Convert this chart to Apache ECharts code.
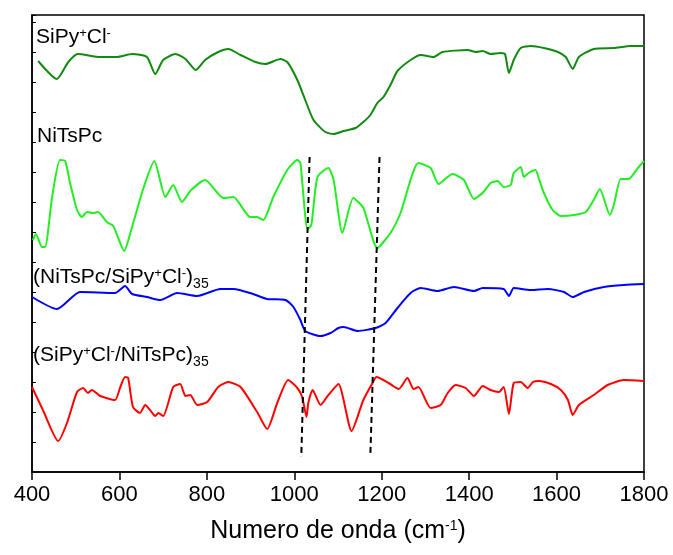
<!DOCTYPE html>
<html>
<head>
<meta charset="utf-8">
<script src="https://cdn.jsdelivr.net/npm/echarts@6/dist/echarts.min.js"></script>
<style>
  html, body { margin: 0; padding: 0; background: #fff; }
  #main { width: 673px; height: 555px; }
</style>
</head>
<body>
<div id="main"></div>
<script>
// wavenumber (cm-1) and offset intensity (a.u.) for each spectrum
const siPyWn = [414,457,483,505,556,594,629,663,682,700,728,751,775,796,826,849,877,911,934,968,984,1007,1025,1044,1071,1090,1113,1140,1158,1174,1190,1204,1220,1236,1266,1289,1319,1339,1397,1415,1431,1449,1472,1482,1491,1502,1518,1541,1571,1603,1621,1637,1651,1685,1731,1770,1800];
const siPyInt = [411,393,410,418,415,415,418,415,398,412,418,413,402,412,420,423,417,410,408,413,410,392,372,352,340,338,341,344,350,357,369,375,387,401,412,417,415,420,422,420,421,418,419,418,399,412,424,426,424,420,415,403,415,423,424,426,426];

const niWn = [402,409,423,430,446,464,476,487,503,514,526,540,551,571,586,611,625,655,680,705,723,743,764,796,838,861,899,915,929,952,984,1007,1014,1030,1039,1053,1078,1090,1110,1135,1158,1190,1220,1243,1284,1312,1330,1362,1388,1411,1433,1449,1465,1479,1495,1502,1518,1525,1536,1552,1559,1571,1591,1610,1640,1667,1685,1699,1722,1731,1747,1765,1786,1800];
const niInt = [232,238,225,225,275,312,311,289,262,255,260,259,260,250,246,221,239,284,311,275,287,270,282,292,274,275,255,255,252,275,302,312,309,243,247,295,304,292,239,274,264,224,239,259,309,304,288,298,292,273,280,289,291,285,287,299,305,295,299,302,294,279,262,256,257,260,272,283,257,267,293,293,304,311];

const niSiWn = [400,457,510,590,613,629,663,693,732,778,831,861,906,938,980,998,1014,1025,1060,1083,1101,1113,1145,1186,1209,1236,1266,1289,1328,1365,1411,1431,1479,1491,1502,1541,1580,1617,1637,1663,1708,1754,1800];
const niSiInt = [175,163,180,179,186,178,175,172,179,176,183,183,178,173,172,165,152,141,136,139,144,145,141,144,149,164,179,184,181,185,181,184,183,176,184,182,183,180,175,180,185,187,188];

const siNiWn = [400,425,460,480,503,517,528,537,556,590,602,613,620,631,647,659,670,682,689,700,723,739,751,762,778,801,826,849,877,915,938,961,986,1007,1018,1028,1032,1042,1060,1078,1101,1131,1158,1179,1188,1216,1239,1259,1273,1284,1312,1335,1351,1369,1392,1411,1431,1449,1468,1479,1491,1502,1518,1534,1546,1559,1587,1610,1626,1637,1651,1685,1717,1754,1800];
const siNiInt = [85,62,31,49,80,84,79,82,76,72,85,95,94,65,59,67,62,56,59,56,85,88,76,77,67,70,85,90,85,60,43,69,92,84,75,55,69,82,67,77,88,41,72,89,95,89,83,94,83,85,64,67,79,87,84,76,86,82,80,85,58,89,90,84,90,91,88,82,72,57,67,77,87,92,91];

// guide lines (dashed)
const guide1 = [[1035, 315], [1016, 15]];
const guide2 = [[1195, 315], [1174, 17]];

const xTicks = [400, 600, 800, 1000, 1200, 1400, 1600, 1800];

const FONT = 'Liberation Sans, Arial, sans-serif';

function pairs(xs, ys) {
  return xs.map((x, i) => [x, ys[i]]);
}

function richStyle(size) {
  return {
    m: { fontSize: size, fontFamily: FONT, color: '#000', lineHeight: 24, verticalAlign: 'top' },
    p: { fontSize: 13, fontFamily: FONT, color: '#000', lineHeight: 14, verticalAlign: 'top' },
    s: { fontSize: 14, fontFamily: FONT, color: '#000', lineHeight: 14, verticalAlign: 'bottom', padding: [14, 0, 0, 0] }
  };
}

function label(text, left, top) {
  return {
    type: 'text',
    left: left,
    top: top,
    style: { text: text, rich: richStyle(21), fill: '#000' }
  };
}

let chart = echarts.init(document.getElementById('main'));

function spectrum(xs, ys, color) {
  return {
    type: 'line',
    data: pairs(xs, ys),
    showSymbol: false,
    smooth: 0.2,
    lineStyle: { color: color, width: 2 },
    itemStyle: { color: color },
    silent: true
  };
}

function dashed(pts) {
  return {
    type: 'line',
    data: pts,
    showSymbol: false,
    lineStyle: { color: '#000', width: 2, type: [6, 4] },
    silent: true
  };
}

let option = {
  animation: false,
  grid: {
    left: 32, right: 29, top: 15, bottom: 83,
    show: true, borderColor: '#000', borderWidth: 1.5
  },
  xAxis: {
    type: 'value',
    min: 400, max: 1800, interval: 200,
    axisLine: { show: true, lineStyle: { color: '#000', width: 1.5 } },
    axisTick: { show: true, inside: false, length: 8, lineStyle: { color: '#000', width: 1.5 } },
    axisLabel: {
      fontSize: 22, fontFamily: FONT, color: '#000', margin: 12,
      formatter: v => xTicks.includes(v) ? String(v) : ''
    },
    splitLine: { show: false },
    name: '{a|Numero de onda (cm}{b|-1}{a|)}',
    nameLocation: 'middle',
    nameGap: 47,
    nameTextStyle: {
      rich: {
        a: { fontSize: 25, fontFamily: FONT, color: '#000', lineHeight: 28, verticalAlign: 'top' },
        b: { fontSize: 14, fontFamily: FONT, color: '#000', lineHeight: 14, verticalAlign: 'top' }
      }
    }
  },
  yAxis: {
    type: 'value',
    min: 0, max: 457, interval: 30,
    axisLine: { show: true, lineStyle: { color: '#000', width: 1.5 } },
    axisTick: { show: true, inside: true, length: 4, lineStyle: { color: '#000', width: 1 } },
    axisLabel: { show: false },
    splitLine: { show: false }
  },
  series: [
    spectrum(siPyWn, siPyInt, '#108a10'),
    spectrum(niWn, niInt, '#22ee22'),
    spectrum(niSiWn, niSiInt, '#0000ff'),
    spectrum(siNiWn, siNiInt, '#ff0000'),
    dashed(guide1),
    dashed(guide2)
  ],
  graphic: [
    label('{m|SiPy}{p|+}{m|Cl}{p|-}', 36, 27),
    label('{m|NiTsPc}', 37, 126),
    label('{m|(NiTsPc/SiPy}{p|+}{m|Cl}{p|-}{m|)}{s|35}', 33, 263),
    label('{m|(SiPy}{p|+}{m|Cl}{p|-}{m|/NiTsPc)}{s|35}', 33, 341)
  ]
};

chart.setOption(option);
</script>
</body>
</html>
